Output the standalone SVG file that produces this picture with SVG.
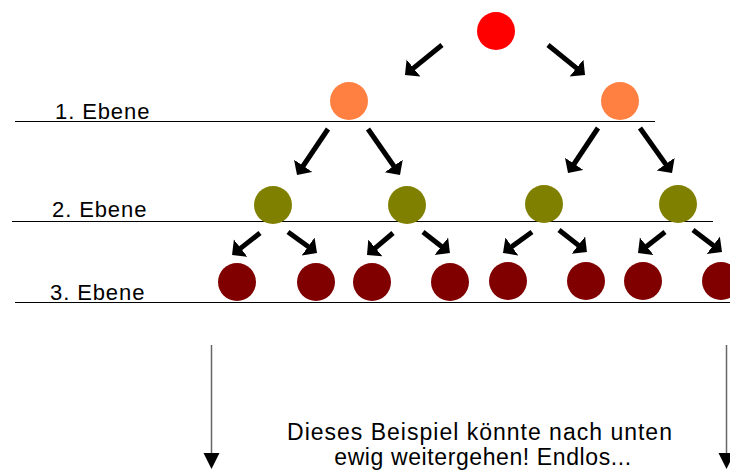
<svg xmlns="http://www.w3.org/2000/svg" width="730" height="470" viewBox="0 0 730 470">
  <style>
    .lbl { font-family: "Liberation Sans", Arial, sans-serif; font-size: 22px; fill: #000; letter-spacing: 0.9px; }
    .note { font-family: "Liberation Sans", Arial, sans-serif; font-size: 23px; fill: #000; text-anchor: middle; }
    .lvl { stroke: #000; stroke-width: 1; }
    .arr { stroke: #000; stroke-width: 5; fill: none; marker-end: url(#head); }
    .down { stroke: #666; stroke-width: 1.5; fill: none; marker-end: url(#dhead); }
    .c0 { fill: #ff0000; }
    .c1 { fill: #ff8040; }
    .c2 { fill: #808000; }
    .c3 { fill: #800000; }
  </style>
  <defs>
    <marker id="head" markerUnits="userSpaceOnUse" markerWidth="12" markerHeight="24" viewBox="0 0 12 24" refX="8" refY="11" orient="auto">
      <path d="M0,0 L11,11 L0,22 Z" fill="#000"/>
    </marker>
    <marker id="dhead" markerUnits="userSpaceOnUse" markerWidth="16" markerHeight="18" viewBox="0 0 16 18" refX="2" refY="8" orient="auto">
      <path d="M0,0 L16,8 L0,16 Z" fill="#000"/>
    </marker>
  </defs>

  <g id="levels">
    <line class="lvl" x1="15" y1="121.5" x2="655" y2="121.5"/>
    <line class="lvl" x1="12" y1="221.5" x2="713" y2="221.5"/>
    <line class="lvl" x1="15" y1="302.5" x2="730" y2="302.5"/>
    <text class="lbl" x="55" y="119">1. Ebene</text>
    <text class="lbl" x="52" y="217">2. Ebene</text>
    <text class="lbl" x="50" y="300">3. Ebene</text>
  </g>

  <g id="connectors">
    <line class="arr" x1="442" y1="45" x2="407.3" y2="73.1"/>
    <line class="arr" x1="548" y1="45" x2="582.7" y2="73.1"/>
    <line class="arr" x1="328" y1="129" x2="298.7" y2="172.5"/>
    <line class="arr" x1="368" y1="129" x2="398.3" y2="172.5"/>
    <line class="arr" x1="598" y1="128" x2="569.7" y2="170.5"/>
    <line class="arr" x1="640" y1="128" x2="670.3" y2="170.6"/>
    <line class="arr" x1="260" y1="233" x2="234.4" y2="253.1"/>
    <line class="arr" x1="288" y1="232" x2="314.6" y2="251.2"/>
    <line class="arr" x1="393" y1="233" x2="369.3" y2="253.1"/>
    <line class="arr" x1="423" y1="232" x2="447.6" y2="251.2"/>
    <line class="arr" x1="532" y1="232" x2="505.4" y2="251.2"/>
    <line class="arr" x1="559" y1="230" x2="584.6" y2="250.1"/>
    <line class="arr" x1="665" y1="232" x2="640.4" y2="251.2"/>
    <line class="arr" x1="693" y1="230" x2="719.6" y2="250.2"/>
    <line class="down" x1="211.5" y1="345" x2="211.5" y2="455"/>
    <line class="down" x1="726.5" y1="345" x2="726.5" y2="455"/>
  </g>

  <g id="n0"><circle class="c0" cx="496" cy="31" r="19"/></g>
  <g id="n1a"><circle class="c1" cx="349" cy="101" r="19"/></g>
  <g id="n1b"><circle class="c1" cx="620" cy="101" r="19"/></g>
  <g id="n2a"><circle class="c2" cx="273" cy="205" r="19"/></g>
  <g id="n2b"><circle class="c2" cx="407" cy="205" r="19"/></g>
  <g id="n2c"><circle class="c2" cx="544" cy="204" r="19"/></g>
  <g id="n2d"><circle class="c2" cx="678" cy="204" r="19"/></g>
  <g id="n3a"><circle class="c3" cx="237" cy="282" r="19"/></g>
  <g id="n3b"><circle class="c3" cx="316" cy="282" r="19"/></g>
  <g id="n3c"><circle class="c3" cx="372" cy="282" r="19"/></g>
  <g id="n3d"><circle class="c3" cx="450" cy="282" r="19"/></g>
  <g id="n3e"><circle class="c3" cx="508" cy="281" r="19"/></g>
  <g id="n3f"><circle class="c3" cx="586" cy="281" r="19"/></g>
  <g id="n3g"><circle class="c3" cx="643" cy="281" r="19"/></g>
  <g id="n3h"><circle class="c3" cx="721" cy="281" r="19"/></g>

  <g id="note">
    <text class="note" x="480" y="440" letter-spacing="1px">Dieses Beispiel könnte nach unten</text>
    <text class="note" x="483" y="465" letter-spacing="0.6px">ewig weitergehen! Endlos...</text>
  </g>
</svg>
